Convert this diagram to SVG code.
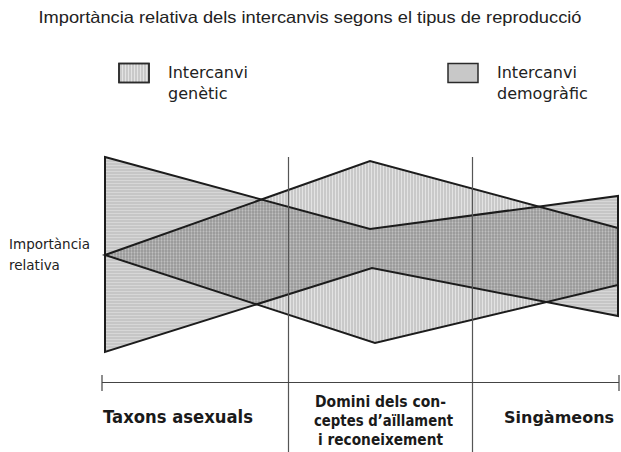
<svg xmlns="http://www.w3.org/2000/svg" width="621" height="452" viewBox="0 0 621 452">
  <defs>
    <pattern id="hstripe" width="6" height="3" patternUnits="userSpaceOnUse">
      <rect width="6" height="3" fill="#c6c6c6"/>
      <rect width="6" height="1" fill="#d7d7d7"/>
    </pattern>
    <pattern id="vstripe" width="3" height="6" patternUnits="userSpaceOnUse">
      <rect width="2" height="6" fill="#000" fill-opacity="0.21"/>
      <rect x="2" width="1" height="6" fill="#000" fill-opacity="0.11"/>
    </pattern>
    <style>
      .title { font-family: "Liberation Sans", Arial, sans-serif; font-size: 16.5px; fill: #222; }
      .leg { font-family: "DejaVu Sans", Verdana, sans-serif; font-size: 16px; fill: #222; }
      .ylab { font-family: "DejaVu Sans", Verdana, sans-serif; font-size: 13.5px; fill: #222; }
      .cat { font-family: "DejaVu Sans", Verdana, sans-serif; font-weight: bold; fill: #1a1a1a; }
      .outline { fill: none; stroke: #1c1c1c; stroke-width: 2; stroke-linejoin: miter; }
      .divider { stroke: #555; stroke-width: 1.2; fill: none; }
      .axis { stroke: #444; stroke-width: 1.2; fill: none; }
      .legbox { stroke: #2a2a2a; stroke-width: 1.5; }
    </style>
  </defs>
  <rect width="621" height="452" fill="#fff"/>

  <g id="title">
    <text class="title" x="310" y="23" text-anchor="middle" textLength="543" lengthAdjust="spacingAndGlyphs">Importància relativa dels intercanvis segons el tipus de reproducció</text>
  </g>

  <g id="legend-genetic">
    <rect class="legbox" x="119" y="63.5" width="30" height="19" fill="#fff"/>
    <rect x="119" y="63.5" width="30" height="19" fill="url(#vstripe)"/>
    <rect class="legbox" x="119" y="63.5" width="30" height="19" fill="none"/>
    <text class="leg" x="168" y="78">Intercanvi</text>
    <text class="leg" x="168" y="99">genètic</text>
  </g>

  <g id="legend-demographic">
    <rect class="legbox" x="448" y="63.5" width="30" height="19" fill="#c8c8c8"/>
    <text class="leg" x="497" y="78">Intercanvi</text>
    <text class="leg" x="497" y="99">demogràfic</text>
  </g>

  <g id="demographic">
    <polygon points="105,157 370,229 618,196 618,316 372,268 105,352" fill="url(#hstripe)"/>
  </g>
  <g id="genetic">
    <polygon points="105,255 370,161 618,228 618,285 375,343" fill="url(#vstripe)"/>
  </g>
  <g id="outlines">
    <polygon class="outline" points="105,157 370,229 618,196 618,316 372,268 105,352"/>
    <polygon class="outline" points="105,255 370,161 618,228 618,285 375,343"/>
  </g>

  <g id="connectors">
    <line class="divider" x1="288.5" y1="157" x2="288.5" y2="452"/>
    <line class="divider" x1="472.5" y1="157" x2="472.5" y2="452"/>
    <line class="axis" x1="102" y1="382.5" x2="619" y2="382.5"/>
    <line class="axis" x1="102" y1="375" x2="102" y2="391"/>
    <line class="axis" x1="619" y1="375" x2="619" y2="391"/>
  </g>

  <g id="ylabel">
    <text class="ylab" x="9" y="249">Importància</text>
    <text class="ylab" x="9" y="270">relativa</text>
  </g>

  <g id="cat-asexual">
    <text class="cat" x="103" y="423" font-size="17" textLength="150" lengthAdjust="spacingAndGlyphs">Taxons asexuals</text>
  </g>
  <g id="cat-domini">
    <text class="cat" x="315" y="407" font-size="15" textLength="131" lengthAdjust="spacingAndGlyphs">Domini dels con-</text>
    <text class="cat" x="314" y="426" font-size="15" textLength="139" lengthAdjust="spacingAndGlyphs">ceptes d’aïllament</text>
    <text class="cat" x="318" y="445" font-size="15" textLength="125" lengthAdjust="spacingAndGlyphs">i reconeixement</text>
  </g>
  <g id="cat-singameons">
    <text class="cat" x="504" y="423" font-size="16">Singàmeons</text>
  </g>
</svg>
